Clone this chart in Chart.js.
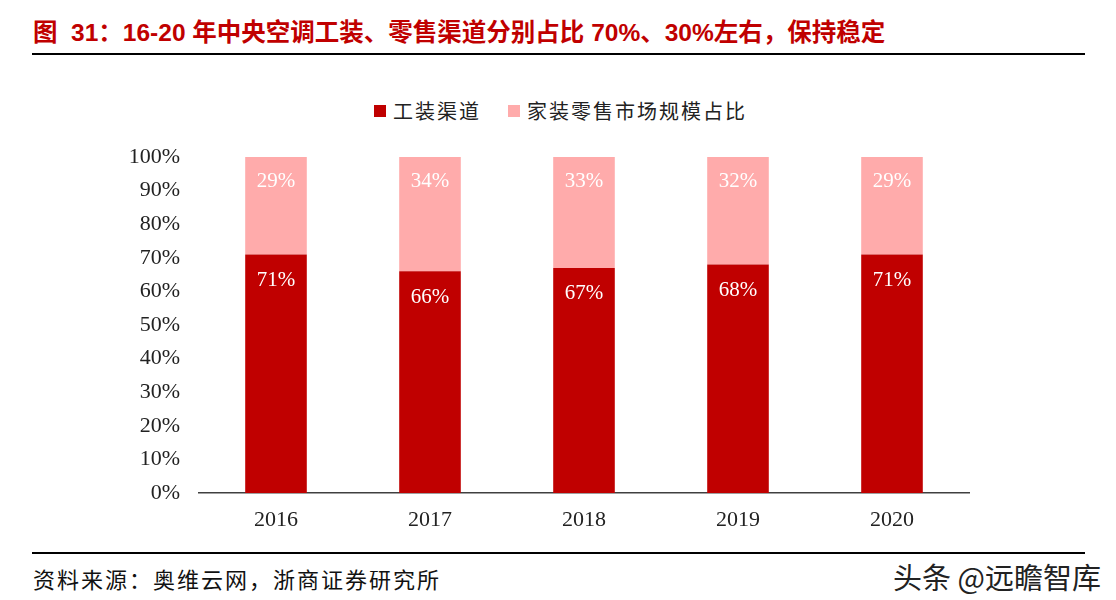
<!DOCTYPE html>
<html>
<head>
<meta charset="utf-8">
<script src="https://cdn.jsdelivr.net/npm/chart.js@4"></script>
<style>
    body { margin: 0; width: 1116px; height: 600px; background: #fff; position: relative; overflow: hidden; }
    #title { position: absolute; left: 33px; top: 13px; font: bold 24.5px "Liberation Sans", "Noto Sans CJK SC", sans-serif; color: #C00000; white-space: nowrap; }
    .rule { position: absolute; left: 32px; width: 1053px; height: 2px; background: #000; }
    #legend { position: absolute; top: 96px; left: 0; width: 1116px; height: 26px; font: 20px "Liberation Serif", "Noto Sans CJK SC", serif; color: #222; }
    .item { position: absolute; display: flex; align-items: center; gap: 7px; white-space: nowrap; letter-spacing: 2px; }
    .box { width: 12px; height: 12px; }
    #source { position: absolute; left: 33px; top: 562px; font: 22px "Liberation Serif", "Noto Sans CJK SC", serif; color: #111; white-space: nowrap; letter-spacing: 2px; }
    #mark { position: absolute; left: 893px; top: 555px; font: 29px "Noto Sans CJK SC", sans-serif; color: #222; white-space: nowrap; }
    #wrap { position: absolute; left: 0; top: 60px; width: 1116px; height: 490px; }
</style>
</head>
<body>
<div id="title">图&nbsp;&nbsp;31：16-20 年中央空调工装、零售渠道分别占比 70%、30%左右，保持稳定</div>
<div class="rule" style="top:53px"></div>
<div id="legend"></div>
<div id="wrap"><canvas id="mainChart"></canvas></div>
<div class="rule" style="top:552px"></div>
<div id="source">资料来源：奥维云网，浙商证券研究所</div>
<div id="mark">头条 @远瞻智库</div>

<script>
const years = ["2016", "2017", "2018", "2019", "2020"];
const projectShare = [71, 66, 67, 68, 71];
const retailShare = [29, 34, 33, 32, 29];
const seriesNames = ["工装渠道", "家装零售市场规模占比"];
const seriesColors = ["#C00000", "#FFABAB"];
const yTicks = [0, 10, 20, 30, 40, 50, 60, 70, 80, 90, 100];

// legend drawn in html so it sits exactly where the report has it
function renderLegend() {
    const container = document.getElementById("legend");
    const lefts = [374, 508];
    seriesNames.forEach((name, i) => {
        const item = document.createElement("div");
        item.className = "item";
        item.style.left = lefts[i] + "px";
        const box = document.createElement("div");
        box.className = "box";
        box.style.backgroundColor = seriesColors[i];
        const text = document.createElement("span");
        text.textContent = name;
        item.appendChild(box);
        item.appendChild(text);
        container.appendChild(item);
    });
}

// white % labels near the top of each segment
const barLabels = {
    id: "barLabels",
    afterDatasetsDraw(chart) {
        const ctx = chart.ctx;
        ctx.save();
        ctx.fillStyle = "#fff";
        ctx.font = '21px "Liberation Serif", serif';
        ctx.textAlign = "center";
        ctx.textBaseline = "middle";
        chart.data.datasets.forEach((ds, di) => {
            chart.getDatasetMeta(di).data.forEach((bar, i) => {
                ctx.fillText(ds.data[i] + "%", bar.x, bar.y + (di === 0 ? 26 : 24));
            });
        });
        ctx.restore();
    }
};

renderLegend();

const ctx = document.getElementById("mainChart").getContext("2d");
new Chart(ctx, {
    type: "bar",
    data: {
        labels: years,
        datasets: [
            { label: seriesNames[0], data: projectShare, backgroundColor: seriesColors[0] },
            { label: seriesNames[1], data: retailShare, backgroundColor: seriesColors[1] }
        ]
    },
    options: {
        responsive: true,
        maintainAspectRatio: false,
        animation: false,
        datasets: { bar: { categoryPercentage: 1, barPercentage: 0.4 } },
        layout: { padding: { top: 97, right: 147, bottom: 0, left: 0 } },
        plugins: {
            legend: { display: false },
            tooltip: { enabled: false }
        },
        scales: {
            x: {
                stacked: true,
                grid: { display: false, drawTicks: false },
                border: { display: true, color: "#404040", width: 1.5 },
                ticks: { color: "#222", padding: 14, font: { family: "Liberation Serif", size: 22 } },
                afterFit: (scale) => { scale.height = 57; }
            },
            y: {
                stacked: true,
                min: 0,
                max: 100,
                grid: { display: false, drawTicks: false },
                border: { display: false },
                afterBuildTicks: (scale) => { scale.ticks = yTicks.map(v => ({ value: v })); },
                ticks: {
                    color: "#222",
                    padding: 19,
                    font: { family: "Liberation Serif", size: 22 },
                    callback: (v) => v + "%"
                },
                afterFit: (scale) => { scale.width = 199; }
            }
        }
    },
    plugins: [barLabels]
});
</script>
</body>
</html>
